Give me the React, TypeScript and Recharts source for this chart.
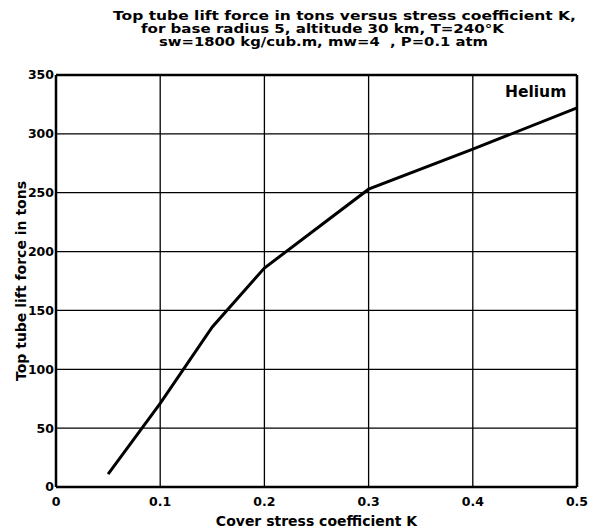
import { LineChart, Line, XAxis, YAxis, CartesianGrid, ReferenceLine, Label } from "recharts";

const kValues = [0.05, 0.1, 0.15, 0.2, 0.3, 0.4, 0.5];
const liftTons = [11, 71, 136, 186, 253, 287, 322];
const xTicks = [0, 0.1, 0.2, 0.3, 0.4, 0.5];
const yTicks = [0, 50, 100, 150, 200, 250, 300, 350];
const titleLines = [
    "Top tube lift force in tons versus stress coefficient K,",
    "for base radius 5, altitude 30 km, T=240°K",
    "sw=1800 kg/cub.m, mw=4  , P=0.1 atm",
];

const data = kValues.map((k, i) => ({ k, lift: liftTons[i] }));

const font = "'DejaVu Sans', 'Liberation Sans', Arial, sans-serif";
const tickStyle = { fill: "#000", fontFamily: font, fontWeight: 700, fontSize: 12.5 };

// title line placement (left, right, baseline)
const titleLeft = [113, 141, 159];
const titleRight = [576, 504, 488];
const titleBase = [19.5, 32.5, 45.5];

export default function App() {
    return (
        <div style={{ position: "absolute", left: 0, top: 0, width: 592, height: 529, background: "#fff" }}>
            <LineChart width={592} height={529} data={data} margin={{ top: 75, right: 15, bottom: 0, left: 0 }}>
                <CartesianGrid stroke="#000" strokeWidth={1.3} verticalValues={xTicks} horizontalValues={yTicks} />
                <XAxis
                    dataKey="k"
                    type="number"
                    domain={[0, 0.5]}
                    ticks={xTicks}
                    height={42}
                    tickLine={false}
                    tickSize={1}
                    tickMargin={9}
                    tick={tickStyle}
                    axisLine={{ stroke: "#000", strokeWidth: 2.5 }}
                >
                    <Label
                        value="Cover stress coefficient K"
                        position="insideBottom"
                        offset={3}
                        style={{ fill: "#000", fontFamily: font, fontWeight: 700, fontSize: 14 }}
                    />
                </XAxis>
                <YAxis
                    type="number"
                    domain={[0, 350]}
                    ticks={yTicks}
                    width={56}
                    tickLine={false}
                    tickSize={1}
                    tickMargin={1}
                    tick={tickStyle}
                    axisLine={{ stroke: "#000", strokeWidth: 2.5 }}
                >
                    <Label
                        value="Top tube lift force in tons"
                        angle={-90}
                        position="insideLeft"
                        offset={21}
                        style={{ fill: "#000", fontFamily: font, fontWeight: 700, fontSize: 14, textAnchor: "middle" }}
                    />
                </YAxis>
                <ReferenceLine y={350} stroke="#000" strokeWidth={2.5} />
                <ReferenceLine x={0.5} stroke="#000" strokeWidth={2.5} />
                <Line
                    type="linear"
                    dataKey="lift"
                    stroke="#000"
                    strokeWidth={3}
                    dot={false}
                    isAnimationActive={false}
                />
            </LineChart>
            <svg width={592} height={60} style={{ position: "absolute", left: 0, top: 0, pointerEvents: "none" }}>
                {titleLines.map((t, i) => (
                    <text
                        key={i}
                        x={titleLeft[i]}
                        y={titleBase[i]}
                        textLength={titleRight[i] - titleLeft[i]}
                        lengthAdjust="spacingAndGlyphs"
                        fontFamily={font}
                        fontWeight={700}
                        fontSize={11.5}
                        fill="#000"
                        style={{ whiteSpace: "pre" }}
                    >
                        {t}
                    </text>
                ))}
            </svg>
            <div
                style={{
                    position: "absolute",
                    left: 505,
                    top: 83,
                    fontFamily: font,
                    fontWeight: 700,
                    fontSize: 15.5,
                    lineHeight: "18px",
                    color: "#000",
                }}
            >
                Helium
            </div>
        </div>
    );
}
